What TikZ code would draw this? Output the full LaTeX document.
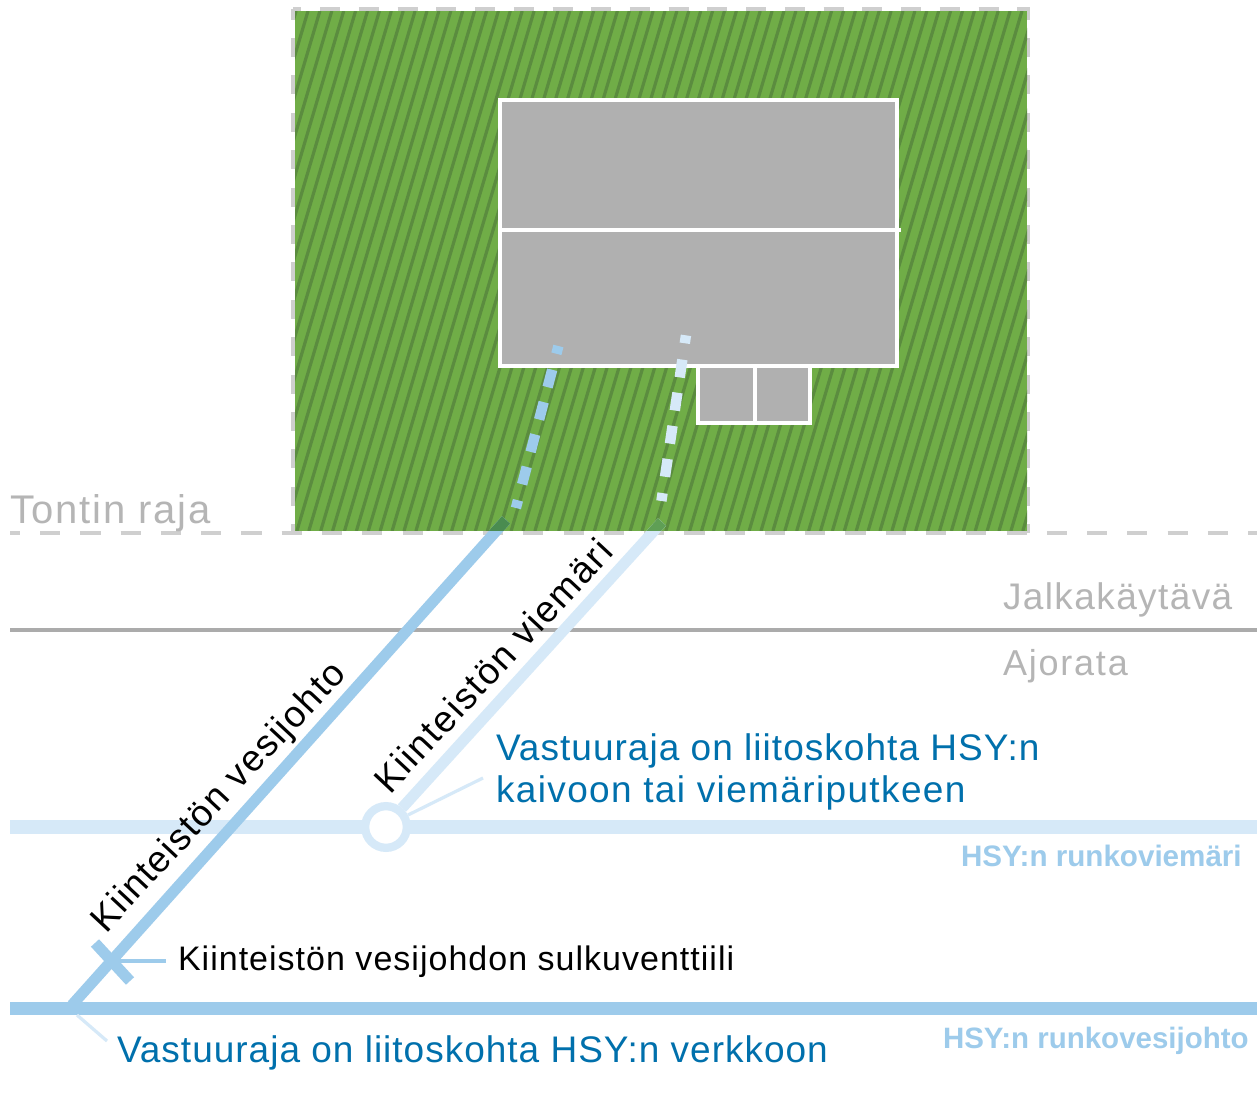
\documentclass[tikz,border=0pt]{standalone}
\usepackage{fontspec}
\setmainfont{Liberation Sans}
\definecolor{grass}{HTML}{70AD47}
\definecolor{stripe}{HTML}{5B8C3F}
\definecolor{roof}{HTML}{B0B0B0}
\definecolor{limit}{HTML}{CFCFCF}
\definecolor{graytext}{HTML}{B5B5B5}
\definecolor{water}{HTML}{9DCBEB}
\definecolor{sewer}{HTML}{D6E9F8}
\definecolor{waterdark}{HTML}{4A8C50}
\definecolor{sewerdark}{HTML}{5F9F55}
\definecolor{note}{HTML}{0070AC}
\definecolor{lane}{HTML}{ABABAB}
\newcommand{\fs}[2]{\fontsize{#1}{#1}\selectfont\addfontfeature{LetterSpace=#2}}
\tikzset{
  x=0.75pt,y=-0.75pt,
  every node/.style={inner sep=0pt,outer sep=0pt},
  txt/.style={anchor=base west},
  house/.style={draw=white,line width=3.2pt,fill=roof},
  boundary/.style={draw=limit,line width=3pt},
  main/.style={line width=9.8pt},
  pipe/.style={line width=8.25pt},
  drop/.style={line width=7.8pt,dash pattern=on 6pt off 12.4pt on 13.5pt off 11.6pt on 13.5pt off 11.6pt on 13.5pt off 11.6pt on 13.5pt off 12.4pt on 6pt off 100pt},
  leader/.style={line width=2.4pt}
}
\begin{document}
\begin{tikzpicture}
\useasboundingbox (0,0) rectangle (1260,1119);
\fill[white] (0,0) rectangle (1260,1119);
% named points
\coordinate (wA) at (72,1005);
\coordinate (wB) at (506,520);
\coordinate (sA) at (402,808);
\coordinate (sB) at (662,522);
\coordinate (hub) at (386,827);
% plot
\draw[boundary,dash pattern=on 14.25pt off 13.8pt,dash phase=6.7pt] (293,9.5) -- (293,533);
\draw[boundary,dash pattern=on 14.25pt off 13.8pt,dash phase=6.7pt] (1028,9.5) -- (1028,533);
\draw[boundary,dash pattern=on 15pt off 14.06pt,dash phase=8.8pt] (293,9.5) -- (1030,9.5);
\fill[grass] (295,11.5) rectangle (1027,531);
\begin{scope}
\clip (295,11.5) rectangle (1027,531);
\foreach \k in {-2,...,75}
  \draw[stripe,line width=2.4pt] ({308+\k*11.9},11) -- ({308+\k*11.9-153.9},531);
\end{scope}
\draw[boundary,dash pattern=on 15.1pt off 15.1pt,dash phase=7.6pt] (10,533) -- (1257,533);
% house
\draw[house] (698,366) rectangle (810,423);
\draw[house] (755,366) -- (755,423);
\draw[house] (500,100) rectangle (897,366);
\draw[house] (500,230) -- (901,230);
% streets
\draw[lane,line width=2.4pt] (10,630) -- (1257,630);
\node[txt,text=graytext,font=\fs{30}{4.4}] (tontti) at (10,523) {Tontin raja};
\node[txt,text=graytext,font=\fs{27.75}{3.8}] (jalka) at (1003,609) {Jalkakäytävä};
\node[txt,text=graytext,font=\fs{27}{5}] (ajo) at (1003,675) {Ajorata};
% mains
\draw[sewer,main] (10,827) -- (1257,827);
\draw[water,main] (10,1008.5) -- (1257,1008.5);
% drops
\draw[water,drop] (515.9,508) -- (559.2,343);
\draw[sewer,drop] (661.4,501) -- (686,335);
% pipes
\draw[water,pipe] (wA) -- (wB);
\draw[sewer,pipe] (sA) -- (sB);
\begin{scope}
\clip (295,11) rectangle (1027,531);
\draw[waterdark,pipe] (wA) -- (wB);
\draw[sewerdark,pipe] (sA) -- (sB);
\end{scope}
\draw[sewer,line width=6.2pt,fill=white] (hub) circle (20.85);
% valve
\coordinate (vA) at (95,943);
\coordinate (vB) at (130,981);
\coordinate (vC) at (113,961);
\coordinate (vD) at (166,961);
\draw[water,pipe] (vA) -- (vB);
\draw[water,leader] (vC) -- (vD);
\coordinate (lA) at (77,1015);
\coordinate (lB) at (107,1041);
\coordinate (lC) at (408,815);
\coordinate (lD) at (483,778);
\draw[sewer,leader] (lA) -- (lB);
\draw[sewer,leader] (lC) -- (lD);
% labels
\node[anchor=base west,rotate=47,font=\fs{27.75}{3.8}] (l1) at (106,934) {Kiinteistön vesijohto};
\node[anchor=base west,rotate=47,font=\fs{27.75}{4.7}] (l2) at (390,795) {Kiinteistön viemäri};
\node[txt,text=note,font=\fs{27.75}{2.8}] (n1) at (496,760) {Vastuuraja on liitoskohta HSY:n};
\node[txt,text=note,font=\fs{27.75}{3.7}] (n2) at (496,802) {kaivoon tai viemäriputkeen};
\node[txt,font=\fs{25.5}{3}] (n3) at (178,970) {Kiinteistön vesijohdon sulkuventtiili};
\node[txt,text=note,font=\fs{27.75}{2.7}] (n4) at (117,1062) {Vastuuraja on liitoskohta HSY:n verkkoon};
\node[txt,text=water,font={\fs{22.2}{0}\bfseries}] (n5) at (961,866) {HSY:n runkoviemäri};
\node[txt,text=water,font={\fs{22.1}{0}\bfseries}] (n6) at (943,1048) {HSY:n runkovesijohto};
\end{tikzpicture}
\end{document}
